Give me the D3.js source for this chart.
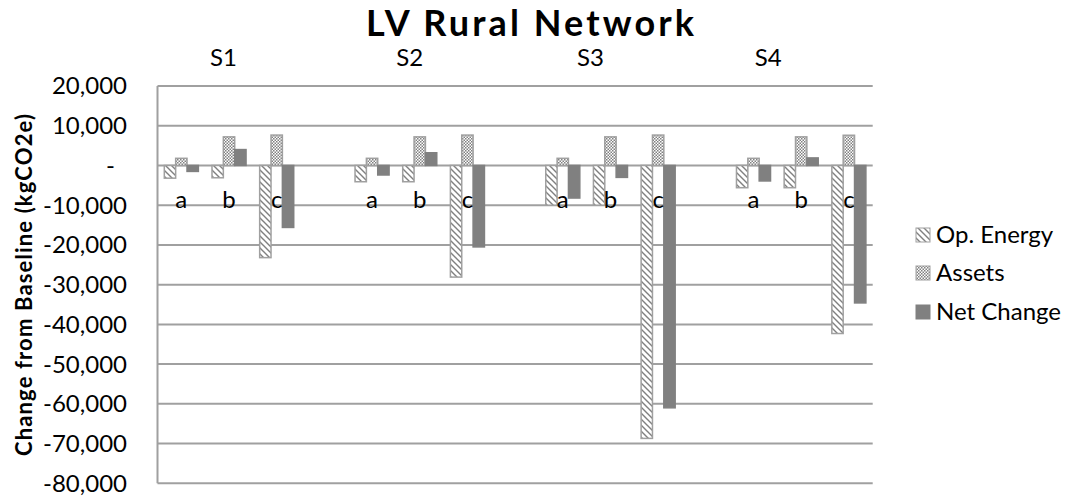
<!DOCTYPE html>
<html>
<head>
<meta charset="utf-8">
<script src="https://cdn.jsdelivr.net/npm/d3@7"></script>
<style>
  html, body { margin: 0; padding: 0; background: #fff; }
  svg { display: block; }
  text { font-family: Lato, "Open Sans", sans-serif; fill: #000; }
</style>
</head>
<body>
<svg id="chart" width="1067" height="497"></svg>
<script>
// ---- data ----
const scenarios = ["S1", "S2", "S3", "S4"];
const options = ["a", "b", "c"];
const seriesNames = ["Op. Energy", "Assets", "Net Change"];
// values per scenario/option in order S1a,S1b,S1c,S2a,...
const opEnergy  = [-3200, -3100, -23200, -4100, -4100, -28100, -10000, -10000, -68700, -5600, -5600, -42300];
const assets    = [ 1800,  7200,   7650,  1800,  7200,   7650,   1800,   7200,   7650,  1800,  7200,   7600];
const netChange = [-1500,  4000, -15600, -2400,  3200, -20500,  -8200,  -3000, -61000, -3900,  1900, -34600];
const yTicks = [20000, 10000, 0, -10000, -20000, -30000, -40000, -50000, -60000, -70000, -80000];
const title = "LV Rural Network";
const yTitle = "Change from Baseline (kgCO2e)";

// ---- layout ----
const W = 1067, H = 497;
const plot = { left: 157.5, right: 872.7, top: 86, bottom: 483.3 };
const svg = d3.select("#chart");

// category keys: groups of a,b,c separated by an empty slot
const catKeys = [];
scenarios.forEach((s, i) => {
  options.forEach(o => catKeys.push(s + o));
  if (i < scenarios.length - 1) catKeys.push("gap" + i);
});

const x = d3.scaleBand().domain(catKeys).range([plot.left, plot.right]).paddingInner(0).paddingOuter(0);
const xs = d3.scaleBand().domain(seriesNames).range([0, x.bandwidth()]).paddingInner(0).paddingOuter(0.6);
const y = d3.scaleLinear().domain([-80000, 20000]).range([plot.bottom, plot.top]);

const rows = [];
scenarios.forEach((s, si) => options.forEach((o, oi) => {
  const i = si * 3 + oi;
  rows.push({ key: s + o, opt: o, vals: [opEnergy[i], assets[i], netChange[i]] });
}));

// ---- patterns ----
const defs = svg.append("defs");
const grey = "#808080";
const pHatch = defs.append("pattern").attr("id", "hatch").attr("patternUnits", "userSpaceOnUse")
  .attr("width", 6).attr("height", 6);
pHatch.append("rect").attr("width", 6).attr("height", 6).attr("fill", "#fff");
pHatch.append("path").attr("d", "M-1,-1 L7,7 M-4,2 L2,8 M2,-4 L8,2")
  .attr("stroke", grey).attr("stroke-width", 1.4);
const pDots = defs.append("pattern").attr("id", "dots").attr("patternUnits", "userSpaceOnUse")
  .attr("width", 3).attr("height", 3);
pDots.append("rect").attr("width", 3).attr("height", 3).attr("fill", "#fff");
pDots.append("rect").attr("x", 0).attr("y", 0).attr("width", 1.5).attr("height", 1.5).attr("fill", grey);
pDots.append("rect").attr("x", 1.5).attr("y", 1.5).attr("width", 1.5).attr("height", 1.5).attr("fill", grey);
const fills = ["url(#hatch)", "url(#dots)", grey];
const strokes = ["#a0a0a0", "#a0a0a0", grey];

// ---- gridlines ----
const gridColor = "#a0a0a0";
svg.append("g").selectAll("line").data(yTicks).join("line")
  .attr("x1", plot.left).attr("x2", plot.right)
  .attr("y1", d => y(d)).attr("y2", d => y(d))
  .attr("stroke", gridColor).attr("stroke-width", 2);
svg.append("line").attr("x1", plot.left).attr("x2", plot.left)
  .attr("y1", plot.top).attr("y2", plot.bottom)
  .attr("stroke", gridColor).attr("stroke-width", 2);

// ---- y tick labels ----
const fmt = d3.formatLocale({ decimal: ".", thousands: ",", grouping: [3], currency: ["", ""], minus: "-" }).format(",");
svg.append("g").selectAll("text").data(yTicks).join("text")
  .attr("x", d => d === 0 ? 115 : 127)
  .attr("y", d => y(d))
  .attr("dy", "0.35em")
  .attr("text-anchor", "end")
  .attr("font-size", 24)
  .text(d => d === 0 ? "-" : fmt(d));

// ---- bars ----
const gBars = svg.append("g");
rows.forEach(r => {
  r.vals.forEach((v, k) => {
    gBars.append("rect")
      .attr("x", x(r.key) + xs(seriesNames[k]))
      .attr("width", xs.bandwidth())
      .attr("y", y(Math.max(0, v)))
      .attr("height", Math.abs(y(v) - y(0)))
      .attr("fill", fills[k])
      .attr("stroke", strokes[k])
      .attr("stroke-width", 1.5);
  });
});

// ---- option labels (a, b, c) ----
svg.append("g").selectAll("text").data(rows).join("text")
  .attr("x", d => x(d.key) + x.bandwidth() / 2)
  .attr("y", y(-10000) + 3)
  .attr("text-anchor", "middle")
  .attr("font-size", 24)
  .text(d => d.opt);

// ---- scenario labels ----
const scenOffset = [-5.5, -10, -20, -33];
svg.append("g").selectAll("text").data(scenarios).join("text")
  .attr("x", (d, i) => x(d + "b") + x.bandwidth() / 2 + scenOffset[i])
  .attr("y", 66)
  .attr("text-anchor", "middle")
  .attr("font-size", 24)
  .text(d => d);

// ---- title ----
svg.append("text").attr("x", 530).attr("y", 35.5).attr("text-anchor", "middle")
  .attr("font-size", 36).attr("font-weight", "bold")
  .attr("textLength", 328).attr("lengthAdjust", "spacing").text(title);

// ---- y title ----
svg.append("text").attr("transform", "translate(32,285) rotate(-90)")
  .attr("text-anchor", "middle").attr("font-size", 22).attr("font-weight", "bold")
  .attr("textLength", 342).attr("lengthAdjust", "spacing").text(yTitle);

// ---- legend ----
const legend = svg.append("g");
const legY = [235, 273, 312];
seriesNames.forEach((n, k) => {
  legend.append("rect").attr("x", 916).attr("y", legY[k] - 7).attr("width", 14).attr("height", 14)
    .attr("fill", fills[k]).attr("stroke", strokes[k]).attr("stroke-width", 1);
  legend.append("text").attr("x", 936).attr("y", legY[k]).attr("dy", "0.35em")
    .attr("font-size", 24).text(n);
});
</script>
</body>
</html>
